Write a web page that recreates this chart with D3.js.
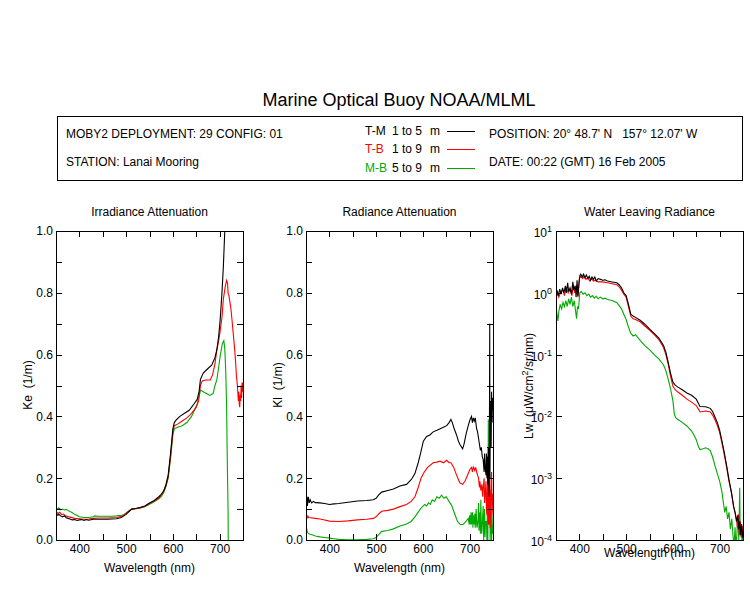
<!DOCTYPE html>
<html>
<head>
<meta charset="utf-8">
<script src="https://cdn.jsdelivr.net/npm/d3@7"></script>
<style>
  body { margin: 0; background: #fff; }
  svg { display: block; font-family: "Liberation Sans", Arial, sans-serif; }
  .axis path, .axis line { stroke: #000; shape-rendering: crispEdges; }
  .axis text { font-size: 12px; fill: #000; font-family: "Liberation Sans", Arial, sans-serif; }
</style>
</head>
<body>
<script>
// ---------------- DATA ----------------
const title = "Marine Optical Buoy NOAA/MLML";
const infoLeft = ["MOBY2 DEPLOYMENT: 29 CONFIG: 01", "STATION: Lanai Mooring"];
const infoRight = ["POSITION: 20\u00B0 48.7' N   157\u00B0 12.07' W", "DATE: 00:22 (GMT) 16 Feb 2005"];
const seriesNames = ["T-M", "T-B", "M-B"];
const seriesDepths = ["1 to 5", "1 to 9", "5 to 9"];
const seriesColors = ["#000000", "#ff0000", "#00aa00"];
const panelTitles = ["Irradiance Attenuation", "Radiance Attenuation", "Water Leaving Radiance"];
const xTicks = [400, 450, 500, 550, 600, 650, 700];
const linTicks = [0, 0.1, 0.2, 0.3, 0.4, 0.5, 0.6, 0.7, 0.8, 0.9, 1.0];
const logExps = [-4, -3, -2, -1, 0, 1];

// Panel 1: Ke (1/m)  [wavelength, value]
const keTM = [[350,.085],[354,.08],[356,.083],[360,.078],[364,.075],[368,.078],[372,.072],[376,.07],[380,.068],[385,.065],[390,.066],[395,.063],[400,.065],[405,.066],[410,.063],[415,.066],[420,.064],[430,.067],[440,.067],[450,.067],[460,.067],[470,.068],[480,.069],[490,.073],[495,.078],[500,.083],[505,.09],[512,.1],[520,.102],[530,.105],[540,.11],[550,.12],[560,.128],[570,.14],[575,.148],[580,.158],[585,.178],[590,.21],[595,.28],[600,.36],[603,.38],[608,.39],[615,.4],[625,.41],[635,.42],[645,.44],[652,.455],[656,.48],[659,.52],[665,.54],[675,.555],[683,.566],[690,.59],[694,.615],[698,.66],[701,.71],[705,.8],[708,.885],[711,1.0],[713,1.05]];
const keTB = [[350,.092],[354,.086],[358,.09],[362,.082],[366,.084],[370,.078],[375,.076],[380,.074],[390,.07],[400,.069],[410,.067],[420,.068],[430,.07],[440,.071],[450,.071],[460,.071],[470,.072],[480,.073],[490,.077],[495,.08],[500,.086],[505,.092],[512,.1],[520,.101],[530,.104],[540,.109],[550,.118],[560,.126],[570,.136],[575,.145],[580,.156],[585,.175],[590,.205],[595,.27],[600,.35],[603,.37],[610,.375],[620,.385],[630,.395],[640,.41],[650,.43],[655,.45],[659,.5],[663,.515],[670,.518],[680,.518],[685,.535],[690,.57],[694,.615],[698,.645],[701,.675],[705,.72],[708,.78],[712,.82],[715,.84],[717,.83],[718,.8],[720,.79],[722,.77],[724,.75],[726,.72],[729,.67],[732,.62],[734,.58],[736,.53],[738,.5],[740,.45],[741,.48],[742,.44],[743,.43],[744,.47],[745,.45],[746,.5],[747,.46],[748,.51],[749,.48],[750,.51]];
const keMB = [[350,.105],[353,.1],[356,.104],[360,.098],[364,.1],[368,.097],[372,.099],[376,.095],[380,.092],[385,.088],[390,.083],[395,.079],[400,.075],[410,.073],[420,.073],[430,.075],[432,.078],[440,.077],[450,.077],[460,.077],[470,.077],[480,.078],[490,.08],[495,.082],[500,.088],[505,.094],[512,.1],[520,.101],[530,.104],[540,.108],[550,.116],[560,.124],[570,.133],[575,.14],[580,.152],[585,.172],[590,.2],[595,.265],[600,.34],[603,.36],[610,.365],[620,.37],[630,.38],[640,.4],[646,.42],[652,.44],[656,.465],[659,.485],[665,.48],[672,.474],[679,.468],[686,.474],[690,.5],[694,.518],[698,.56],[701,.593],[704,.62],[706,.636],[709,.645],[711,.62],[713,.55],[715,.43],[716,.3],[717,.2],[718,.1],[718.5,0]];

// Panel 2: Kl (1/m)
const klTM = [[350,.13],[351,.115],[352,.14],[353,.11],[355,.14],[357,.12],[359,.13],[362,.12],[366,.125],[370,.121],[380,.12],[390,.118],[400,.115],[410,.117],[420,.118],[440,.122],[460,.126],[480,.128],[494,.13],[500,.135],[505,.145],[512,.155],[525,.16],[537,.165],[551,.175],[565,.18],[575,.195],[583,.215],[590,.25],[595,.28],[601,.32],[608,.335],[615,.34],[622,.35],[630,.355],[637,.36],[644,.365],[651,.37],[656,.38],[660,.39],[663,.38],[667,.36],[672,.34],[676,.32],[679,.31],[683,.3],[685,.295],[688,.31],[692,.34],[697,.37],[701,.39],[704,.4],[706,.38],[708,.395],[710,.385],[712,.395],[715,.36],[717,.35],[719,.33],[721,.31],[723,.29],[725,.3],[727,.27],[729,.26],[731,.22],[732,.28],[733,.24],[735,.21],[736,.28],[737,.2],[738,.27],[739,.18],[740,.3],[741,.2],[742,.14],[743,.7],[743.5,.2],[744,.35],[745,.45],[746,.3],[747,.48],[748,.38],[749,.46],[750,.42]];
const klTB = [[350,.08],[352,.07],[354,.078],[356,.072],[360,.072],[370,.07],[380,.068],[390,.065],[400,.061],[420,.06],[440,.062],[460,.065],[480,.067],[494,.07],[500,.075],[506,.085],[512,.093],[525,.096],[537,.1],[551,.108],[565,.115],[575,.125],[583,.14],[590,.17],[596,.2],[601,.215],[610,.235],[622,.25],[630,.252],[637,.255],[644,.25],[651,.258],[656,.25],[660,.25],[666,.235],[672,.21],[679,.185],[685,.18],[690,.19],[697,.215],[701,.23],[704,.235],[706,.22],[708,.238],[711,.225],[713,.235],[715,.22],[717,.21],[719,.2],[721,.17],[722,.19],[724,.16],[726,.18],[728,.14],[729,.17],[731,.2],[732,.12],[733,.14],[735,.19],[736,.1],[737,.08],[738,.16],[739,.22],[740,.06],[741,.05],[742,.18],[743,.16],[744,.04],[745,.1],[746,.2],[747,.22],[748,.08],[749,.12],[750,.15]];
const klMB = [[350,.08],[351,.04],[353,.025],[356,.02],[360,.018],[365,.016],[370,.013],[380,.01],[390,.008],[400,.006],[410,.004],[420,.002],[440,.001],[460,.001],[480,.002],[494,.004],[500,.008],[506,.018],[512,.028],[525,.031],[537,.036],[551,.045],[565,.052],[575,.06],[583,.075],[590,.09],[597,.105],[604,.115],[608,.11],[612,.12],[616,.115],[620,.13],[625,.125],[630,.14],[635,.135],[640,.145],[645,.135],[650,.14],[656,.125],[662,.11],[668,.085],[674,.06],[680,.05],[686,.05],[692,.06],[697,.07],[699,.05],[700,.08],[702,.05],[703,.09],[704,.05],[706,.09],[707,.04],[708,.08],[710,.05],[711,.085],[712,.04],[714,.1],[715,.05],[716,.04],[718,.07],[719,.12],[720,.03],[722,.09],[723,.02],[724,.13],[725,.04],[726,.02],[728,.08],[729,.11],[730,.0],[731,.05],[732,.1],[733,.01],[734,.06],[736,.06],[737,.0],[738,.1],[739,.0],[740,.39],[741,.05],[742,.12],[743,.15],[744,.0],[745,.06],[746,.1],[747,.0],[748,.08],[749,.02],[750,.05]];

// Panel 3: Lw (uW/cm^2/sr/nm)
const lwTM = [[350,.85],[352,1.1],[355,.9],[358,1.15],[361,.95],[364,1.2],[367,1.0],[370,1.3],[372,1.0],[375,1.45],[377,1.05],[380,1.2],[383,.95],[386,1.5],[388,1.1],[391,1.3],[393,.85],[395,1.6],[397,.9],[399,1.4],[401,1.9],[403,2.0],[406,1.8],[409,2.0],[412,1.75],[415,1.95],[418,1.7],[421,1.85],[424,1.6],[427,1.8],[430,1.65],[433,1.8],[436,1.55],[440,1.7],[445,1.65],[450,1.6],[455,1.62],[460,1.55],[470,1.5],[480,1.45],[485,1.35],[490,1.2],[495,1.0],[500,.9],[505,.65],[510,.45],[515,.42],[520,.4],[530,.36],[540,.31],[550,.26],[560,.22],[570,.185],[580,.14],[585,.11],[590,.075],[595,.05],[600,.036],[605,.032],[610,.03],[620,.027],[630,.024],[640,.022],[650,.019],[655,.016],[658,.0145],[670,.0143],[680,.0135],[685,.012],[690,.0098],[695,.008],[700,.006],[705,.004],[710,.0026],[715,.0016],[720,.00095],[725,.0006],[730,.00035],[733,.00028],[736,.0002],[739,.00025],[741,.00015],[743,.0002],[745,.00012],[747,.00018],[749,.00011],[750,.00014]];
const lwTB = [[350,.8],[353,1.0],[356,.85],[360,1.05],[365,1.1],[368,.9],[372,1.2],[376,1.0],[380,1.15],[384,.9],[387,1.35],[390,1.0],[394,1.3],[397,.85],[400,1.7],[403,1.85],[407,1.7],[410,1.85],[414,1.65],[418,1.75],[422,1.55],[426,1.7],[430,1.55],[435,1.6],[440,1.5],[450,1.5],[460,1.45],[470,1.4],[480,1.35],[485,1.25],[490,1.1],[495,.95],[500,.85],[505,.6],[510,.42],[515,.38],[520,.37],[530,.34],[540,.29],[550,.25],[560,.21],[570,.175],[580,.13],[585,.1],[590,.07],[595,.045],[600,.031],[605,.027],[610,.025],[620,.022],[630,.019],[640,.017],[650,.015],[655,.013],[658,.0118],[670,.0122],[680,.0118],[685,.0105],[690,.0088],[695,.0072],[700,.0055],[705,.0037],[710,.0024],[715,.0015],[720,.0009],[725,.0006],[730,.00034],[733,.00028],[736,.00022],[738,.00016],[740,.00026],[742,.00012],[744,.0002],[746,.00011],[748,.00017],[750,.00013]];
const lwMB = [[350,.65],[352,.45],[354,.35],[356,.5],[359,.65],[362,.55],[365,.7],[368,.6],[371,.75],[374,.6],[377,.8],[380,.65],[383,.85],[386,.6],[389,.75],[392,.5],[394,.38],[396,.6],[398,.55],[401,1.0],[404,1.05],[408,.95],[412,1.0],[416,.9],[420,.95],[424,.85],[428,.9],[432,.82],[436,.88],[440,.8],[445,.85],[450,.8],[455,.82],[460,.78],[470,.75],[475,.72],[480,.7],[485,.62],[490,.55],[495,.45],[500,.37],[505,.28],[510,.22],[515,.2],[520,.21],[530,.17],[540,.14],[550,.12],[560,.1],[570,.085],[580,.068],[585,.055],[590,.04],[595,.028],[600,.018],[603,.011],[606,.0095],[610,.009],[620,.008],[630,.007],[640,.0058],[645,.005],[650,.0042],[655,.0032],[658,.0029],[665,.003],[670,.0031],[675,.003],[680,.0028],[685,.0022],[690,.0016],[695,.0012],[700,.0009],[705,.0006],[708,.0004],[711,.00028],[714,.00035],[717,.00022],[720,.00028],[723,.00015],[726,.00022],[729,.00011],[731,.00008],[733,.00016],[735,.00007],[737,.00013],[739,.00025],[741,.0001],[743,.0007],[744,.00012],[746,.00018],[748,.00009],[750,.00012]];

const panelData = [[keTM, keTB, keMB], [klTM, klTB, klMB], [lwTM, lwTB, lwMB]];

// ---------------- LAYOUT ----------------
const W = 750, H = 600;
const panelLefts = [56, 306, 556];
const panelW = 187, plotTop = 231, plotBottom = 540;
const tickLen = 6;

const svg = d3.select("body").append("svg").attr("width", W).attr("height", H);

// Title
svg.append("text").attr("x", 399).attr("y", 106).attr("text-anchor", "middle")
  .attr("font-size", 18).text(title);

// Header box
svg.append("rect").attr("x", 57.5).attr("y", 116.5).attr("width", 685).attr("height", 64)
  .attr("fill", "none").attr("stroke", "#000").attr("shape-rendering", "crispEdges");

svg.append("text").attr("x", 66).attr("y", 138).attr("font-size", 12).text(infoLeft[0]);
svg.append("text").attr("x", 66).attr("y", 166).attr("font-size", 12).text(infoLeft[1]);
svg.append("text").attr("x", 489).attr("y", 138).attr("font-size", 12).style("white-space", "pre").text(infoRight[0]);
svg.append("text").attr("x", 489).attr("y", 166).attr("font-size", 12).text(infoRight[1]);

const legendY = [135, 153, 172];
seriesNames.forEach((n, i) => {
  svg.append("text").attr("x", 365).attr("y", legendY[i]).attr("font-size", 12)
    .attr("fill", seriesColors[i]).text(n);
  svg.append("text").attr("x", 392).attr("y", legendY[i]).attr("font-size", 12).text(seriesDepths[i]);
  svg.append("text").attr("x", 430).attr("y", legendY[i]).attr("font-size", 12).text("m");
  svg.append("line").attr("x1", 447).attr("x2", 475)
    .attr("y1", legendY[i] - 3.5).attr("y2", legendY[i] - 3.5)
    .attr("stroke", seriesColors[i]).attr("stroke-width", 1).attr("shape-rendering", "crispEdges");
});

// ---------------- PANELS ----------------
panelLefts.forEach((left, p) => {
  const isLog = p === 2;
  const x = d3.scaleLinear().domain([350, 750]).range([left, left + panelW]);
  const y = isLog
    ? d3.scaleLog().domain([1e-4, 10]).range([plotBottom, plotTop])
    : d3.scaleLinear().domain([0, 1]).range([plotBottom, plotTop]);

  const g = svg.append("g");

  const clipId = "clip" + p;
  svg.append("clipPath").attr("id", clipId).append("rect")
    .attr("x", left).attr("y", plotTop).attr("width", panelW).attr("height", plotBottom - plotTop);

  const line = d3.line().x(d => x(d[0])).y(d => y(isLog ? Math.max(d[1], 1e-6) : d[1]));
  const dg = g.append("g").attr("clip-path", `url(#${clipId})`);
  [2, 1, 0].forEach(s => {
    dg.append("path").datum(panelData[p][s]).attr("d", line)
      .attr("fill", "none").attr("stroke", seriesColors[s]).attr("stroke-width", 1.1);
  });

  const yTickVals = isLog ? logExps.map(e => Math.pow(10, e)) : linTicks;
  const fmtLin = d => (Math.round(d * 10) % 2 === 0 ? d3.format(".1f")(d) : "");

  g.append("g").attr("class", "axis").attr("transform", `translate(0,${plotBottom})`)
    .call(d3.axisBottom(x).tickValues(xTicks).tickSize(-tickLen).tickSizeOuter(0).tickPadding(4)
      .tickFormat(d => (d % 100 === 0 ? d : "")));
  g.append("g").attr("class", "axis").attr("transform", `translate(0,${plotTop})`)
    .call(d3.axisTop(x).tickValues(xTicks).tickSize(-tickLen).tickSizeOuter(0).tickFormat(""));
  const leftAx = g.append("g").attr("class", "axis").attr("transform", `translate(${left},0)`)
    .call(d3.axisLeft(y).tickValues(yTickVals).tickSize(-tickLen).tickSizeOuter(0).tickPadding(3)
      .tickFormat(isLog ? () => "" : fmtLin));
  g.append("g").attr("class", "axis").attr("transform", `translate(${left + panelW},0)`)
    .call(d3.axisRight(y).tickValues(yTickVals).tickSize(-tickLen).tickSizeOuter(0).tickFormat(""));

  if (isLog) {
    leftAx.selectAll(".tick").each(function(d) {
      const t = d3.select(this).select("text");
      const e = Math.round(Math.log10(d));
      t.text(null).attr("x", -4).attr("dy", "0.45em");
      t.append("tspan").text("10");
      t.append("tspan").attr("font-size", 9).attr("dy", -5).text(String(e));
    });
  }

  svg.append("text").attr("x", left + panelW / 2).attr("y", 216).attr("text-anchor", "middle")
    .attr("font-size", 12).text(panelTitles[p]);

  svg.append("text").attr("x", left + panelW / 2).attr("y", isLog ? 557 : 572).attr("text-anchor", "middle")
    .attr("font-size", 12).text("Wavelength (nm)");

  const yl = svg.append("text").attr("transform", `translate(${left - (isLog ? 23 : 24)},${isLog ? 386 : 385}) rotate(-90)`)
    .attr("text-anchor", "middle").attr("font-size", 12).style("white-space", "pre");
  if (p === 0) yl.text("Ke  (1/m)");
  if (p === 1) yl.text("Kl  (1/m)");
  if (p === 2) {
    yl.append("tspan").text("Lw  (\u03BCW/cm");
    yl.append("tspan").attr("font-size", 9).attr("dy", -5).text("2");
    yl.append("tspan").attr("dy", 5).text("/sr/nm)");
  }
});
</script>
</body>
</html>
